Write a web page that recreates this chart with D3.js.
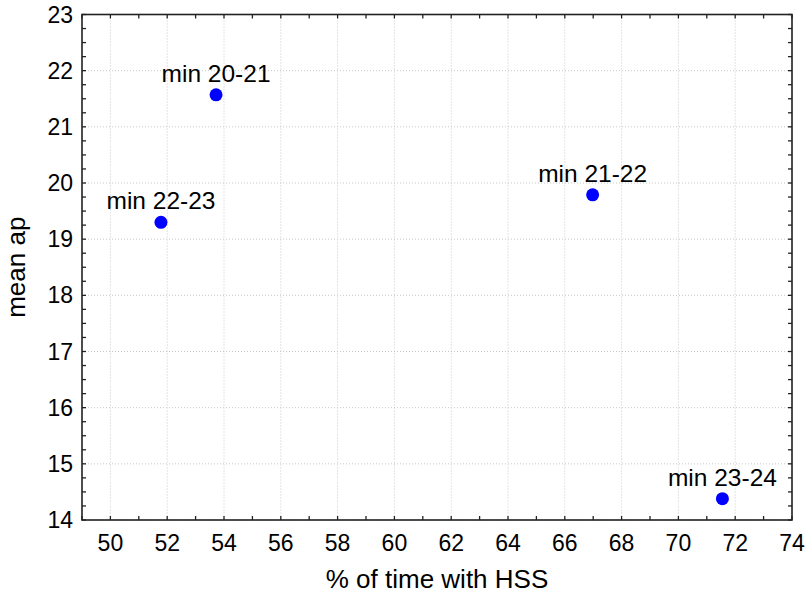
<!DOCTYPE html>
<html>
<head>
<meta charset="utf-8">
<script src="https://cdn.jsdelivr.net/npm/d3@7"></script>
<style>
  body { margin: 0; background: #fff; }
  text { font-family: "Liberation Sans", Arial, sans-serif; fill: #000; }
</style>
</head>
<body>
<div id="chart"></div>
<script>
// data
var labels = ["min 20-21", "min 21-22", "min 22-23", "min 23-24"];
var pctHSS = [53.72, 66.98, 51.78, 71.55];
var meanAp = [21.57, 19.79, 19.30, 14.38];
var xTicks = [50, 52, 54, 56, 58, 60, 62, 64, 66, 68, 70, 72, 74];
var yTicks = [14, 15, 16, 17, 18, 19, 20, 21, 22, 23];

var W = 808, H = 595;
var margin = {top: 14.5, right: 16, bottom: 75, left: 82};
var width = W - margin.left - margin.right,
    height = H - margin.top - margin.bottom;

var svg = d3.select("#chart").append("svg")
    .attr("width", W).attr("height", H);
var g = svg.append("g")
    .attr("transform", "translate(" + margin.left + "," + margin.top + ")");

var x = d3.scaleLinear().domain([49, 74]).range([0, width]);
var y = d3.scaleLinear().domain([14, 23]).range([height, 0]);

// dotted grid
g.append("g").selectAll("line").data(xTicks).join("line")
    .attr("x1", d => x(d)).attr("x2", d => x(d))
    .attr("y1", 0).attr("y2", height)
    .attr("stroke", "#c8c8c8").attr("stroke-dasharray", "1,2");
g.append("g").selectAll("line").data(yTicks).join("line")
    .attr("y1", d => y(d)).attr("y2", d => y(d))
    .attr("x1", 0).attr("x2", width)
    .attr("stroke", "#c8c8c8").attr("stroke-dasharray", "1,2");

// ticks pointing inward on all four sides
var xMinor = d3.range(49, 74.01, 1);
var yMinor = d3.range(14, 23.01, 0.25);
var tk = 4;
function tickStyle(sel) { return sel.attr("stroke", "#222").attr("stroke-width", 1.3); }
tickStyle(g.append("g").selectAll("line").data(xMinor).join("line")
    .attr("x1", d => x(d)).attr("x2", d => x(d))
    .attr("y1", height).attr("y2", height - tk));
tickStyle(g.append("g").selectAll("line").data(xMinor).join("line")
    .attr("x1", d => x(d)).attr("x2", d => x(d))
    .attr("y1", 0).attr("y2", tk));
tickStyle(g.append("g").selectAll("line").data(yMinor).join("line")
    .attr("y1", d => y(d)).attr("y2", d => y(d))
    .attr("x1", 0).attr("x2", tk));
tickStyle(g.append("g").selectAll("line").data(yMinor).join("line")
    .attr("y1", d => y(d)).attr("y2", d => y(d))
    .attr("x1", width).attr("x2", width - tk));

// frame
g.append("rect")
    .attr("width", width).attr("height", height)
    .attr("fill", "none").attr("stroke", "#222").attr("stroke-width", 1.6);

// tick labels
g.append("g").selectAll("text").data(xTicks).join("text")
    .attr("x", d => x(d)).attr("y", height + 31)
    .attr("text-anchor", "middle")
    .style("font-size", "23px")
    .text(d => d);
g.append("g").selectAll("text").data(yTicks).join("text")
    .attr("x", -9).attr("y", d => y(d))
    .attr("dy", "0.35em")
    .attr("text-anchor", "end")
    .style("font-size", "23px")
    .text(d => d);

// axis titles
g.append("text")
    .attr("x", width / 2).attr("y", height + 68)
    .attr("text-anchor", "middle")
    .style("font-size", "26px")
    .text("% of time with HSS");
g.append("text")
    .attr("transform", "translate(" + (-57) + "," + (height / 2) + ") rotate(-90)")
    .attr("text-anchor", "middle")
    .style("font-size", "26px")
    .text("mean ap");

// points and their labels
var pts = labels.map((l, i) => ({label: l, x: pctHSS[i], y: meanAp[i]}));
g.append("g").selectAll("circle").data(pts).join("circle")
    .attr("cx", d => x(d.x)).attr("cy", d => y(d.y))
    .attr("r", 6.5).attr("fill", "#0000ff");
g.append("g").selectAll("text").data(pts).join("text")
    .attr("x", d => x(d.x)).attr("y", d => y(d.y) - 13)
    .attr("text-anchor", "middle")
    .style("font-size", "24.5px")
    .text(d => d.label);
</script>
</body>
</html>
